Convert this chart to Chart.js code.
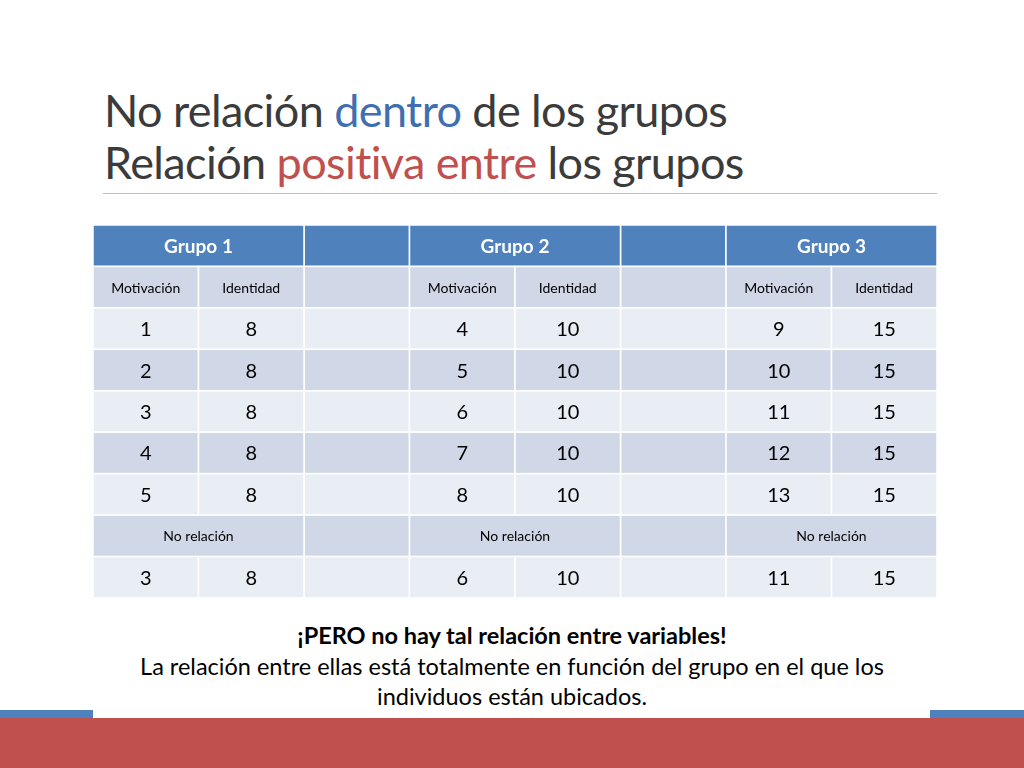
<!DOCTYPE html>
<html>
<head>
<meta charset="utf-8">
<script src="https://cdn.jsdelivr.net/npm/chart.js@4"></script>
<style>
  body { margin:0; width:1024px; height:768px; background:#fff; position:relative; overflow:hidden; font-family:Lato, "Open Sans", sans-serif; }
  .title { position:absolute; left:104px; top:84px; font-size:45px; line-height:52px; color:#3b3b3b; letter-spacing:-0.6px; }
  .rule { position:absolute; left:103px; top:193px; width:834px; height:1px; background:#bfbfbf; }
  #wrap { position:absolute; left:93px; top:225px; width:844px; height:373px; }
  .note { position:absolute; left:0; width:1024px; top:620px; text-align:center; font-size:23.5px; line-height:30.5px; color:#000; }
  .red { position:absolute; left:0; top:718px; width:1024px; height:50px; background:#c0504d; }
  .blue1 { position:absolute; left:0; top:710px; width:93px; height:8px; background:#4f81bd; }
  .blue2 { position:absolute; left:930px; top:710px; width:94px; height:8px; background:#4f81bd; }
</style>
</head>
<body>
<div class="title">No relación <span style="color:#3f6fb0">dentro</span> de los grupos<br>Relación <span style="color:#c0504d">positiva entre</span> los grupos</div>
<div class="rule"></div>
<div id="wrap"><canvas id="table"></canvas></div>
<div class="note"><b>¡PERO no hay tal relación entre variables!</b><br>La relación entre ellas está totalmente en función del grupo en el que los<br>individuos están ubicados.</div>
<div class="blue1"></div><div class="blue2"></div>
<div class="red"></div>
<script>
// table content
var groups = ['Grupo 1', 'Grupo 2', 'Grupo 3'];
var subHeaders = ['Motivación', 'Identidad'];
var motivacion = [[1, 2, 3, 4, 5], [4, 5, 6, 7, 8], [9, 10, 11, 12, 13]];
var identidad = [[8, 8, 8, 8, 8], [10, 10, 10, 10, 10], [15, 15, 15, 15, 15]];
var summaryLabel = 'No relación';
var summaryMot = [3, 6, 11];
var summaryId = [8, 10, 15];

var groupCols = [0, 3, 6]; // first column of each group, blank column in between
var nCols = 8, nRows = 9;

function rowColor(r) {
  if (r === 0) return '#4f81bd';
  return (r % 2 === 1) ? '#d0d8e8' : '#e9edf4';
}

var tablePlugin = {
  id: 'tableCells',
  afterDraw: function(chart) {
    var ctx = chart.ctx, xs = chart.scales.x, ys = chart.scales.y;
    function cell(c0, c1, r, fill, text, font, color) {
      var x0 = xs.getPixelForValue(c0), x1 = xs.getPixelForValue(c1);
      var y0 = ys.getPixelForValue(r), y1 = ys.getPixelForValue(r + 1);
      ctx.fillStyle = fill;
      ctx.fillRect(x0, y0, x1 - x0, y1 - y0);
      ctx.strokeStyle = '#ffffff';
      ctx.lineWidth = 1.5;
      ctx.strokeRect(x0, y0, x1 - x0, y1 - y0);
      if (text !== undefined && text !== '') {
        ctx.fillStyle = color || '#000';
        ctx.font = font;
        ctx.textAlign = 'center';
        ctx.textBaseline = 'middle';
        ctx.fillText(String(text), (x0 + x1) / 2, (y0 + y1) / 2 + 1);
      }
    }
    ctx.save();
    for (var r = 0; r < nRows; r++) {
      var fill = rowColor(r);
      // blank columns
      cell(2, 3, r, fill); cell(5, 6, r, fill);
      groupCols.forEach(function(c, g) {
        if (r === 0) {
          cell(c, c + 2, r, fill, groups[g], 'bold 19px Lato, sans-serif', '#fff');
        } else if (r === 1) {
          cell(c, c + 1, r, fill, subHeaders[0], '14px Lato, sans-serif');
          cell(c + 1, c + 2, r, fill, subHeaders[1], '14px Lato, sans-serif');
        } else if (r >= 2 && r <= 6) {
          cell(c, c + 1, r, fill, motivacion[g][r - 2], '20px Lato, sans-serif');
          cell(c + 1, c + 2, r, fill, identidad[g][r - 2], '20px Lato, sans-serif');
        } else if (r === 7) {
          cell(c, c + 2, r, fill, summaryLabel, '14px Lato, sans-serif');
        } else {
          cell(c, c + 1, r, fill, summaryMot[g], '20px Lato, sans-serif');
          cell(c + 1, c + 2, r, fill, summaryId[g], '20px Lato, sans-serif');
        }
      });
    }
    ctx.restore();
  }
};

var table = new Chart(document.getElementById('table'), {
  type: 'scatter',
  data: { datasets: [{ data: [], pointRadius: 0 }] },
  options: {
    responsive: true,
    maintainAspectRatio: false,
    animation: false,
    layout: { padding: 0 },
    plugins: { legend: { display: false }, tooltip: { enabled: false } },
    scales: {
      x: { type: 'linear', min: 0, max: nCols, display: false },
      y: { type: 'linear', min: 0, max: nRows, reverse: true, display: false }
    }
  },
  plugins: [tablePlugin]
});
</script>
</body>
</html>
